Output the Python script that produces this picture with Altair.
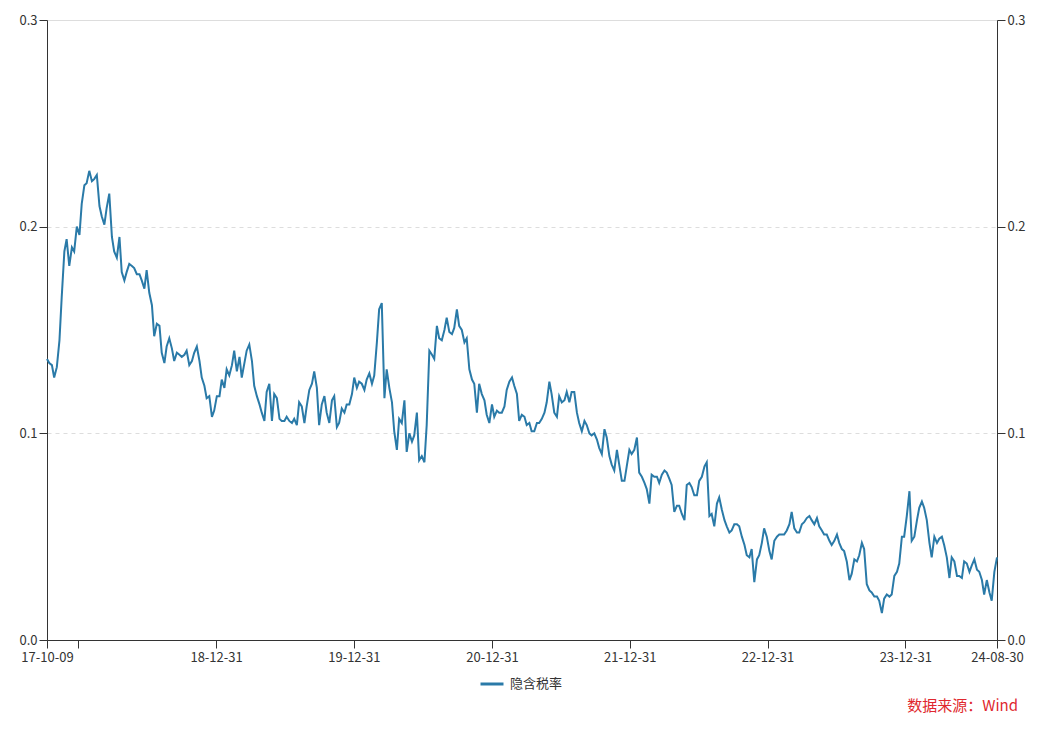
import altair as alt
import pandas as pd

# ---------------- data ----------------
start_date = "2017-10-09"
end_date = "2024-08-30"
series_name = "隐含税率"
source_note = "数据来源：Wind"

rate_part1 = [
    0.136, 0.134, 0.133, 0.127, 0.132, 0.145, 0.166, 0.188, 0.194, 0.181,
    0.190, 0.188, 0.200, 0.196, 0.211, 0.220, 0.221, 0.227, 0.222, 0.223,
    0.225, 0.210, 0.205, 0.201, 0.209, 0.216, 0.195, 0.188, 0.185, 0.195,
    0.178, 0.174, 0.178, 0.182, 0.181, 0.180, 0.177, 0.177, 0.174, 0.170,
    0.179, 0.168, 0.162, 0.147, 0.153, 0.152, 0.139, 0.134,
]
rate_part2 = [
    0.142, 0.146, 0.141, 0.135, 0.139, 0.138, 0.137, 0.138, 0.140, 0.133,
    0.135, 0.139, 0.142, 0.135, 0.127, 0.123, 0.117, 0.118, 0.108, 0.111,
    0.118, 0.118, 0.126, 0.122, 0.131, 0.128, 0.133, 0.140, 0.130, 0.137,
    0.127, 0.134, 0.140, 0.143, 0.135, 0.123, 0.118, 0.114, 0.110, 0.106,
    0.120, 0.124, 0.106, 0.119, 0.117, 0.107, 0.106, 0.106,
]
rate_part3 = [
    0.108, 0.106, 0.105, 0.107, 0.104, 0.115, 0.113, 0.105, 0.113, 0.121,
    0.124, 0.130, 0.122, 0.104, 0.114, 0.118, 0.110, 0.105, 0.116, 0.118,
    0.103, 0.105, 0.112, 0.110, 0.114, 0.114, 0.119, 0.127, 0.122, 0.125,
    0.124, 0.121, 0.126, 0.129, 0.124, 0.128, 0.144, 0.160, 0.163, 0.117,
    0.131, 0.122, 0.115, 0.101, 0.092, 0.107, 0.105, 0.116, 0.091, 0.100,
]
rate_part4 = [
    0.096, 0.099, 0.110, 0.087, 0.089, 0.086, 0.104, 0.140, 0.138, 0.136,
    0.152, 0.146, 0.145, 0.150, 0.156, 0.149, 0.148, 0.151, 0.160, 0.152,
    0.150, 0.144, 0.146, 0.131, 0.126, 0.124, 0.110, 0.124, 0.119, 0.116,
    0.109, 0.105, 0.114, 0.108, 0.111, 0.110, 0.110, 0.113, 0.121, 0.125,
    0.127, 0.123, 0.119, 0.106, 0.109, 0.108, 0.104, 0.105,
]
rate_part5 = [
    0.101, 0.101, 0.105, 0.105, 0.107, 0.110, 0.115, 0.125, 0.119, 0.110,
    0.108, 0.118, 0.115, 0.116, 0.120, 0.115, 0.120, 0.120, 0.110, 0.105,
    0.101, 0.106, 0.104, 0.100, 0.099, 0.100, 0.097, 0.093, 0.090, 0.102,
    0.098, 0.089, 0.085, 0.082, 0.092, 0.085, 0.077, 0.077, 0.084, 0.092,
    0.090, 0.092, 0.098, 0.081, 0.079, 0.076,
]
rate_part6 = [
    0.073, 0.066, 0.080, 0.079, 0.079, 0.076, 0.080, 0.082, 0.081, 0.078,
    0.075, 0.062, 0.065, 0.065, 0.061, 0.058, 0.075, 0.076, 0.074, 0.070,
    0.070, 0.077, 0.079, 0.084, 0.086, 0.060, 0.061, 0.055, 0.066, 0.069,
    0.063, 0.058, 0.055, 0.052, 0.053, 0.056, 0.056, 0.055, 0.050, 0.046,
    0.041, 0.040, 0.044, 0.028, 0.039, 0.041, 0.047, 0.054, 0.050, 0.043,
]
rate_part7 = [
    0.039, 0.048, 0.050, 0.051, 0.051, 0.051, 0.053, 0.056, 0.062, 0.054,
    0.052, 0.052, 0.056, 0.057, 0.059, 0.060, 0.058, 0.056, 0.059, 0.055,
    0.053, 0.051, 0.051, 0.048, 0.046, 0.048, 0.051, 0.047, 0.044, 0.043,
    0.038, 0.029, 0.032, 0.039, 0.038, 0.041, 0.047, 0.044, 0.027, 0.024,
    0.023, 0.021, 0.021, 0.019, 0.013, 0.020,
]
rate_part8 = [
    0.022, 0.021, 0.022, 0.031, 0.033, 0.037, 0.050, 0.050, 0.060, 0.072,
    0.048, 0.050, 0.058, 0.064, 0.067, 0.064, 0.058, 0.047, 0.040, 0.050,
    0.047, 0.049, 0.050, 0.046, 0.040, 0.030, 0.040, 0.038, 0.031, 0.031,
    0.030, 0.038, 0.037, 0.033, 0.036, 0.039, 0.034, 0.033, 0.029, 0.022,
    0.029, 0.023, 0.019, 0.033, 0.040,
]

x_tick_dates = ["2017-10-09", "2017-12-31", "2018-12-31", "2019-12-31", "2020-12-31",
                "2021-12-31", "2022-12-31", "2023-12-31", "2024-08-30"]
hidden_tick_label = "17-12-31"
y_ticks = [0.0, 0.1, 0.2, 0.3]
y_domain = [0.0, 0.3]

rates = (rate_part1 + rate_part2 + rate_part3 + rate_part4 +
         rate_part5 + rate_part6 + rate_part7 + rate_part8)
dates = pd.date_range(start_date, end_date, periods=len(rates)).strftime("%Y-%m-%d")
df = pd.DataFrame({"date": list(dates), "rate": rates, "series": series_name})


def dt(s):
    return alt.DateTime(year=int(s[:4]), month=int(s[5:7]), date=int(s[8:10]), utc=True)


# ---------------- styling ----------------
FONT = "Noto Sans CJK SC"
LINE_COLOR = "#2a7aa8"
AXIS_COLOR = "#333333"
TEXT_COLOR = "#333333"

x_enc = alt.X(
    "date:T",
    scale=alt.Scale(type="utc", domain=[dt(start_date), dt(end_date)], nice=False),
    axis=alt.Axis(
        values=[dt(s) for s in x_tick_dates],
        labelExpr=f"utcFormat(datum.value, '%y-%m-%d') == '{hidden_tick_label}' ? '' : utcFormat(datum.value, '%y-%m-%d')",
        title=None, grid=False, tickSize=8, labelPadding=3,
        domainColor=AXIS_COLOR, tickColor=AXIS_COLOR, labelColor=TEXT_COLOR,
        labelFontSize=13, labelFont=FONT, labelOverlap=False, labelFlush=False,
    ),
)

def y_axis(orient, grid):
    return alt.Axis(
        orient=orient, values=y_ticks, format=".1f", title=None, grid=grid,
        gridDash=[4, 4], gridColor="#dddddd", gridWidth=1,
        tickSize=8, labelPadding=2, domainColor=AXIS_COLOR, tickColor=AXIS_COLOR,
        labelColor=TEXT_COLOR, labelFontSize=13, labelFont=FONT,
    )

left = alt.Chart(df).mark_line(strokeWidth=2).encode(
    x=x_enc,
    y=alt.Y("rate:Q", scale=alt.Scale(domain=y_domain, nice=False, zero=True), axis=y_axis("left", True)),
    color=alt.Color(
        "series:N",
        scale=alt.Scale(range=[LINE_COLOR]),
        legend=alt.Legend(
            title=None, orient="none", legendX=432, legendY=651,
            symbolType="stroke", symbolSize=529, symbolStrokeWidth=3,
            labelFontSize=13, labelFont=FONT, labelColor=TEXT_COLOR, labelOffset=5,
        ),
    ),
)

right = alt.Chart(df).mark_line(strokeWidth=2, strokeOpacity=0).encode(
    x=x_enc,
    y=alt.Y("rate:Q", scale=alt.Scale(domain=y_domain, nice=False, zero=True), axis=y_axis("right", False)),
)

note = alt.Chart(pd.DataFrame({"t": [source_note]})).mark_text(
    align="right", baseline="middle", fontSize=15, font=FONT, color="#e0282e",
).encode(text="t:N", x=alt.value(971), y=alt.value(686))

chart = alt.layer(left, right, note).resolve_scale(y="independent").properties(
    width=950, height=620,
    autosize=alt.AutoSizeParams(type="none"),
    padding={"left": 47, "top": 20, "right": 49, "bottom": 89},
).configure_view(stroke=None).configure(background="white")

chart.save("out.html", embed_options={"renderer": "svg", "actions": False})
